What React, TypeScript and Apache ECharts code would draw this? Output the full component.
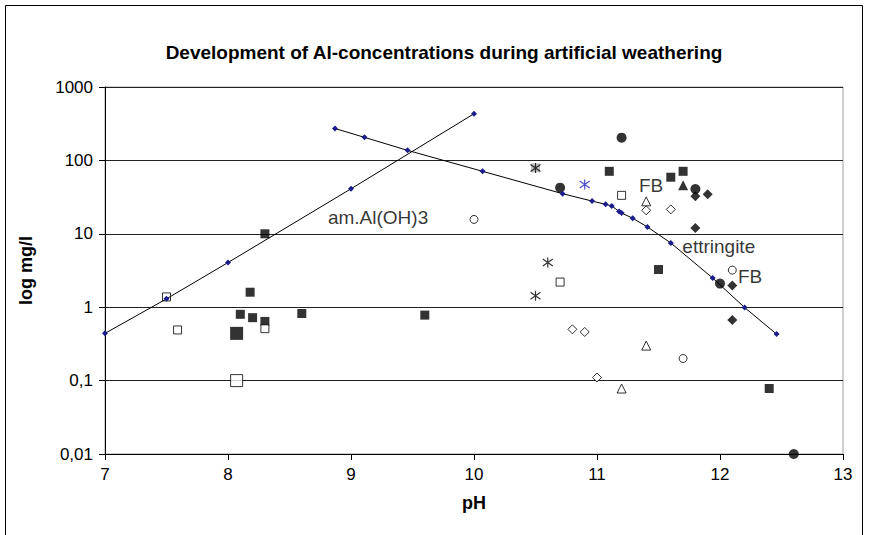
import React, { useEffect, useRef } from "react";
import * as echarts from "echarts";

// ---- Data ----
const title = "Development of Al-concentrations during artificial weathering";
const xName = "pH";
const yName = "log mg/l";
const yTickLabels = ["0,01", "0,1", "1", "10", "100", "1000"]; // 10^-2 .. 10^3

// Model line: am.Al(OH)3
const alohPH = [7, 7.5, 8, 9, 10];
const alohVal = [0.44, 1.3, 4.06, 41, 432];

// Model line: ettringite
const ettPH = [8.87, 9.11, 9.46, 10.07, 10.72, 10.96, 11.07, 11.12, 11.18, 11.2, 11.29, 11.41, 11.6, 11.94, 12.2, 12.46];
const ettVal = [272, 206, 137, 71, 35.2, 27.9, 25.2, 23.9, 20.2, 19.2, 16.3, 12.4, 7.5, 2.5, 0.99, 0.43];

// Measured samples (pH, mg/l)
const filledSquares = [[8.3, 10], [8.18, 1.6], [8.1, 0.8], [8.2, 0.72], [8.3, 0.64], [8.6, 0.82], [9.6, 0.78], [11.1, 71], [11.6, 59], [11.7, 71], [11.5, 3.26], [12.4, 0.078]];
const filledSquaresBig = [[8.07, 0.44]];
const openSquares = [[7.5, 1.38], [7.59, 0.49], [8.3, 0.51], [10.7, 2.2], [11.2, 33.4]];
const openSquaresBig = [[8.07, 0.1]];
const filledCircles = [[10.7, 42.5], [11.2, 204], [11.8, 40.7], [12.0, 2.1], [12.6, 0.01]];
const openCircles = [[10.0, 15.7], [11.7, 0.2], [12.1, 3.2]];
const filledDiamonds = [[11.8, 32.4], [11.9, 34.5], [11.8, 12], [12.1, 1.97], [12.1, 0.67]];
const openDiamonds = [[10.8, 0.5], [10.9, 0.46], [11.0, 0.11], [11.4, 20.9], [11.6, 21.5]];
const filledTriangles = [[11.7, 45.7]];
const openTriangles = [[11.4, 27.7], [11.4, 0.3], [11.2, 0.078]];
const asterisks = [[10.5, 79], [10.6, 4.06], [10.5, 1.43]];
const asterisksGreyBox = [[10.5, 79]];
const blueAsterisks = [[10.9, 47]];

// Annotations (pH, mg/l, text)
const annotations: [number, number, string][] = [
  [9.22, 16.6, "am.Al(OH)3"],
  [11.44, 45.7, "FB"],
  [11.99, 6.8, "ettringite"],
  [12.245, 2.64, "FB"],
];

const FONT = "'Liberation Sans', Arial, sans-serif";
const ASTERISK = "path://M5,0 L5,10 M0,1.5 L10,8.5 M0,8.5 L10,1.5";

const zipXY = (xs: number[], ys: number[]) => xs.map((x, i) => [x, ys[i]]);

export default function App() {
  const ref = useRef<HTMLDivElement>(null);
  useEffect(() => {
    document.body.style.margin = "0";
    if (!ref.current) return;
    const chart = echarts.init(ref.current, undefined, { renderer: "svg" });

    const filled = (name: string, data: number[][], symbol: string, size: number) => ({
      name, type: "scatter", data, symbol, symbolSize: size, z: 3,
      itemStyle: { color: "#000", borderColor: "#000", borderWidth: 0 },
    });
    const hollow = (name: string, data: number[][], symbol: string, size: number) => ({
      name, type: "scatter", data, symbol, symbolSize: size, z: 3,
      itemStyle: { color: "#fff", borderColor: "#000", borderWidth: 1 },
    });
    const modelLine = (name: string, data: number[][]) => ({
      name, type: "line", data, symbol: "diamond", symbolSize: 6, showSymbol: true, z: 4,
      lineStyle: { color: "#000", width: 1 },
      itemStyle: { color: "#1c1c8c", borderWidth: 0 },
    });

    chart.setOption({
      animation: false,
      backgroundColor: "#fff",
      textStyle: { fontFamily: FONT },
      title: {
        text: title,
        left: 439,
        textAlign: "center",
        top: 38,
        textStyle: { fontFamily: FONT, fontSize: 19, fontWeight: "bold", color: "#000" },
      },
      grid: {
        left: 105, right: 27, top: 87, bottom: 81,
        show: true, borderColor: "#a0a0a0", borderWidth: 1, backgroundColor: "#fff",
      },
      xAxis: {
        type: "value", min: 7, max: 13, interval: 1,
        name: xName, nameLocation: "middle", nameGap: 40,
        nameTextStyle: { fontFamily: FONT, fontSize: 18, fontWeight: "bold", color: "#000" },
        axisLine: { lineStyle: { color: "#000", width: 1 } },
        axisTick: { show: true, inside: false, length: 6, lineStyle: { color: "#000" } },
        axisLabel: { fontFamily: FONT, fontSize: 17, color: "#000", margin: 12 },
        splitLine: { show: false },
      },
      yAxis: {
        type: "log", logBase: 10, min: 0.01, max: 1000,
        name: yName, nameLocation: "middle", nameGap: 70, nameRotate: 90,
        nameTextStyle: { fontFamily: FONT, fontSize: 18, fontWeight: "bold", color: "#000" },
        axisLine: { show: true, lineStyle: { color: "#000", width: 1 } },
        axisTick: { show: true, inside: false, length: 6, lineStyle: { color: "#000" } },
        axisLabel: {
          fontFamily: FONT, fontSize: 17, color: "#000", margin: 12,
          formatter: (v: number) => yTickLabels[Math.round(Math.log10(v)) + 2] ?? String(v),
        },
        splitLine: { show: true, lineStyle: { color: "#222", width: 1 } },
        minorTick: { show: false },
      },
      graphic: [
        {
          type: "rect", shape: { x: 5.5, y: 5.5, width: 857, height: 600 },
          style: { fill: "none", stroke: "#000", lineWidth: 1 }, z: -10, silent: true,
        },
      ],
      series: [
        modelLine("am.Al(OH)3", zipXY(alohPH, alohVal)),
        modelLine("ettringite", zipXY(ettPH, ettVal)),
        filled("filled squares", filledSquares, "rect", 9),
        filled("filled squares big", filledSquaresBig, "rect", 13),
        hollow("open squares", openSquares, "rect", 8),
        hollow("open squares big", openSquaresBig, "rect", 12),
        filled("filled circles", filledCircles, "circle", 10),
        hollow("open circles", openCircles, "circle", 8),
        filled("filled diamonds", filledDiamonds, "diamond", 10),
        hollow("open diamonds", openDiamonds, "diamond", 9),
        filled("filled triangles", filledTriangles, "triangle", 10),
        hollow("open triangles", openTriangles, "triangle", 9),
        {
          name: "grey box", type: "scatter", data: asterisksGreyBox, symbol: "rect", symbolSize: 9, z: 2,
          itemStyle: { color: "#b0b0b0" },
        },
        {
          name: "asterisks", type: "scatter", data: asterisks, symbol: ASTERISK, symbolSize: 10, z: 3,
          itemStyle: { color: "none", borderColor: "#000", borderWidth: 1.2 },
        },
        {
          name: "blue asterisks", type: "scatter", data: blueAsterisks, symbol: ASTERISK, symbolSize: 10, z: 3,
          itemStyle: { color: "none", borderColor: "#2020c0", borderWidth: 1.2 },
        },
        {
          name: "annotations", type: "scatter", symbolSize: 0, z: 5,
          data: annotations.map(([x, y, t]) => ({ value: [x, y], label: { formatter: t } })),
          label: {
            show: true, position: "inside",
            fontFamily: FONT, fontSize: 19, color: "#000",
          },
          silent: true,
        },
      ],
    });
    return () => chart.dispose();
  }, []);
  return <div ref={ref} style={{ width: 870, height: 535 }} />;
}
